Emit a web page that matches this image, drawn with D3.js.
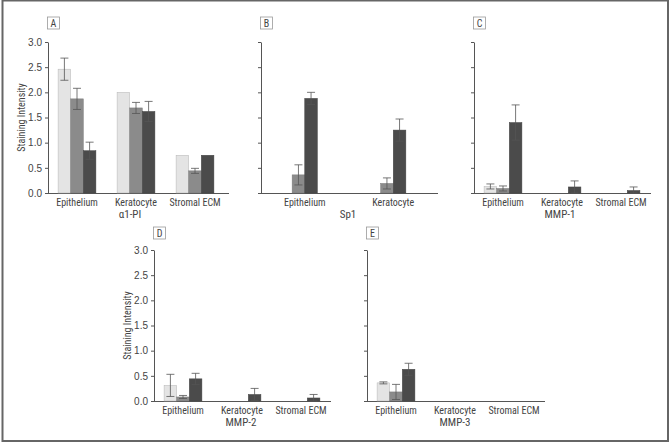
<!DOCTYPE html>
<html>
<head>
<meta charset="utf-8">
<script src="https://cdn.jsdelivr.net/npm/d3@7"></script>
<style>
  html, body { margin: 0; padding: 0; background: #fff; }
  svg text { font-family: "Liberation Sans Narrow", "Arial Narrow", "Roboto Condensed", "Liberation Sans", sans-serif; fill: #444; }
</style>
</head>
<body>
<svg id="chart" width="671" height="445"></svg>
<script>
// ---------------- data ----------------
const categories3 = ["Epithelium", "Keratocyte", "Stromal ECM"];
const categories2 = ["Epithelium", "Keratocyte"];
const yTicks = [0.0, 0.5, 1.0, 1.5, 2.0, 2.5, 3.0];
const yLabel = "Staining Intensity";

// Panel A: α1-PI
const a1piLight = [2.46, 2.00, 0.75];
const a1piGray  = [1.87, 1.69, 0.44];
const a1piDark  = [0.84, 1.62, 0.75];
const a1piLightErr = [0.22, null, null];
const a1piGrayErr  = [0.21, 0.11, 0.05];
const a1piDarkErr  = [0.17, 0.20, null];

// Panel B: Sp1 (two series only)
const sp1Gray = [0.36, 0.19];
const sp1Dark = [1.88, 1.25];
const sp1GrayErr = [0.20, 0.11];
const sp1DarkErr = [0.12, 0.22];

// Panel C: MMP-1
const mmp1Light = [0.13, 0, 0];
const mmp1Gray  = [0.09, 0, 0];
const mmp1Dark  = [1.40, 0.12, 0.05];
const mmp1LightErr = [0.05, null, null];
const mmp1GrayErr  = [0.05, null, null];
const mmp1DarkErr  = [0.35, 0.12, 0.07];

// Panel D: MMP-2
const mmp2Light = [0.31, 0, 0];
const mmp2Gray  = [0.08, 0, 0];
const mmp2Dark  = [0.44, 0.13, 0.06];
const mmp2LightErr = [0.22, null, null];
const mmp2GrayErr  = [0.03, null, null];
const mmp2DarkErr  = [0.11, 0.12, 0.07];

// Panel E: MMP-3
const mmp3Light = [0.36, 0, 0];
const mmp3Gray  = [0.18, 0, 0];
const mmp3Dark  = [0.63, 0, 0];
const mmp3LightErr = [0.02, null, null];
const mmp3GrayErr  = [0.15, null, null];
const mmp3DarkErr  = [0.12, null, null];

// ---------------- styles ----------------
const fills = { light: "#e4e4e4", gray: "#8b8b8b", dark: "#4b4b4b" };
const strokes = { light: "#b5b5b5", gray: "#7a7a7a", dark: "#444" };

// ---------------- panels ----------------
const panels = [
  { letter: "A", name: "α1-PI", cats: categories3, axisX: 48, y0: 193, y3: 42, end: 229, tickLabels: true, yLab: 25,
    series: [["light", a1piLight, a1piLightErr], ["gray", a1piGray, a1piGrayErr], ["dark", a1piDark, a1piDarkErr]], nameX: 130 },
  { letter: "B", name: "Sp1", cats: categories2, axisX: 261, y0: 193, y3: 42, end: 438, tickLabels: false,
    series: [["gray", sp1Gray, sp1GrayErr], ["dark", sp1Dark, sp1DarkErr]], nameX: 348 },
  { letter: "C", name: "MMP-1", cats: categories3, axisX: 474, y0: 193, y3: 42, end: 651, tickLabels: false,
    series: [["light", mmp1Light, mmp1LightErr], ["gray", mmp1Gray, mmp1GrayErr], ["dark", mmp1Dark, mmp1DarkErr]], nameX: 560 },
  { letter: "D", name: "MMP-2", cats: categories3, axisX: 154, y0: 401, y3: 250, end: 331, tickLabels: true, yLab: 131,
    series: [["light", mmp2Light, mmp2LightErr], ["gray", mmp2Gray, mmp2GrayErr], ["dark", mmp2Dark, mmp2DarkErr]], nameX: 241 },
  { letter: "E", name: "MMP-3", cats: categories3, axisX: 367, y0: 401, y3: 250, end: 545, tickLabels: false,
    series: [["light", mmp3Light, mmp3LightErr], ["gray", mmp3Gray, mmp3GrayErr], ["dark", mmp3Dark, mmp3DarkErr]], nameX: 455 }
];

const svg = d3.select("#chart");

// outer frame
svg.append("rect").attr("x", 2.5).attr("y", 0.5).attr("width", 665.5).attr("height", 440.5)
  .attr("fill", "none").attr("stroke", "#666").attr("stroke-width", 2);

const barW = 12.6;

panels.forEach(p => {
  const g = svg.append("g");
  const y = d3.scaleLinear().domain([0, 3]).range([p.y0, p.y3]);
  const step = 59 * (p.cats.length === 2 ? 1.5 : 1);
  const x0 = d3.scaleBand().domain(p.cats)
    .range([p.axisX - 0.5, p.axisX - 0.5 + step * p.cats.length]).padding(0);
  const groupW = barW * p.series.length;
  const x1 = d3.scaleBand().domain(p.series.map(s => s[0])).range([0, groupW]).padding(0);

  // y axis
  const yAxis = d3.axisLeft(y).tickValues(yTicks).tickSize(3).tickSizeOuter(0)
    .tickFormat(p.tickLabels ? d3.format(".1f") : "");
  const ya = g.append("g").attr("transform", `translate(${p.axisX},0)`).call(yAxis);
  ya.select(".domain").attr("stroke", "#555").attr("stroke-width", 1);
  ya.selectAll(".tick line").attr("stroke", "#555");
  ya.selectAll(".tick text").attr("font-size", 10).attr("fill", "#444").attr("dx", 0)
    .style("font-family", '"Liberation Sans Narrow", "Arial Narrow", sans-serif');

  // x axis line
  g.append("line").attr("x1", p.axisX).attr("x2", p.end).attr("y1", p.y0 + 0.5).attr("y2", p.y0 + 0.5)
    .attr("stroke", "#555").attr("stroke-width", 1);

  // bars
  p.series.forEach(([key, vals, errs]) => {
    p.cats.forEach((c, i) => {
      const v = vals[i];
      const bx = x0(c) + (step - groupW) / 2 + x1(key);
      if (v > 0) {
        g.append("rect").attr("x", bx).attr("y", y(v)).attr("width", x1.bandwidth())
          .attr("height", y(0) - y(v)).attr("fill", fills[key])
          .attr("stroke", strokes[key]).attr("stroke-width", 0.5);
      }
      const e = errs[i];
      if (e != null && v > 0) {
        const cx = bx + x1.bandwidth() / 2;
        const lo = Math.max(0, v - e), hi = v + e;
        const eg = g.append("g").attr("stroke", "#555").attr("stroke-width", 0.8);
        eg.append("line").attr("x1", cx).attr("x2", cx).attr("y1", y(lo)).attr("y2", y(hi));
        eg.append("line").attr("x1", cx - 4).attr("x2", cx + 4).attr("y1", y(hi)).attr("y2", y(hi));
        eg.append("line").attr("x1", cx - 4).attr("x2", cx + 4).attr("y1", y(lo)).attr("y2", y(lo));
      }
    });
  });

  // category labels
  p.cats.forEach(c => {
    g.append("text").attr("x", x0(c) + step / 2).attr("y", p.y0 + 13)
      .attr("text-anchor", "middle").attr("font-size", 10).text(c);
  });
  // panel name
  g.append("text").attr("x", p.nameX).attr("y", p.y0 + 25)
    .attr("text-anchor", "middle").attr("font-size", 11).text(p.name);

  // letter box
  const bx = p.axisX - 0.5, by = p.y3 - (p.y0 === 193 ? 25 : 23);
  g.append("rect").attr("x", bx).attr("y", by).attr("width", 12).attr("height", 12)
    .attr("fill", "#fff").attr("stroke", "#999").attr("stroke-width", 0.8);
  g.append("text").attr("x", bx + 6).attr("y", by + 9.5).attr("text-anchor", "middle")
    .attr("font-size", 10).text(p.letter);

  // y label
  if (p.yLab) {
    g.append("text").attr("transform", `translate(${p.yLab},${(p.y0 + p.y3) / 2}) rotate(-90)`)
      .attr("text-anchor", "middle").attr("font-size", 10).text(yLabel);
  }
});
</script>
</body>
</html>
